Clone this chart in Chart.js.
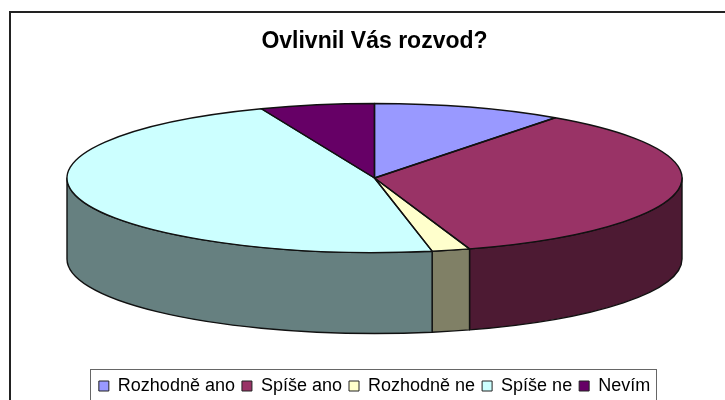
<!DOCTYPE html>
<html><head><meta charset="utf-8">
<style>html,body{margin:0;padding:0;background:#fff}canvas{display:block}</style>
<script src="https://cdn.jsdelivr.net/npm/chart.js@4"></script></head>
<body><canvas id="c" width="725" height="400"></canvas>
<script>
const categories = ["Rozhodně ano", "Spíše ano", "Rozhodně ne", "Spíše ne", "Nevím"];
const values = [10, 35, 2, 47, 6];
const topColors = ["#9999FF", "#993366", "#FFFFCC", "#CCFFFF", "#660066"];
const sideColors = ["#4D4D80", "#4D1A33", "#808066", "#668080", "#330033"];
const titleText = "Ovlivnil Vás rozvod?";
const outline = "#111111";
const geo = {cx: 374.5, cy: 178, rx: 307.5, ry: 74.5, depth: 81};

function xform(ctx, el){
  const r = el.outerRadius;
  ctx.translate(geo.cx, geo.cy);
  ctx.scale(geo.rx / r, geo.ry / r);
  ctx.translate(-el.x, -el.y);
}
const pie3d = {
  id: "pie3d",
  beforeDraw(chart){
    const c = chart.ctx;
    c.save();
    c.strokeStyle = "#222222"; c.lineWidth = 2;
    c.beginPath(); c.moveTo(10, 401); c.lineTo(10, 12); c.lineTo(726, 12); c.stroke();
    c.strokeStyle = "#666666"; c.lineWidth = 1;
    c.strokeRect(90.5, 369.5, 566, 40);
    c.restore();
  },
  beforeDatasetsDraw(chart){
    const c = chart.ctx, arcs = chart.getDatasetMeta(0).data;
    const {cx, cy, rx, ry, depth} = geo;
    c.save();
    c.lineWidth = 1.4; c.strokeStyle = outline; c.lineJoin = "round";
    arcs.forEach((el, i) => {
      const a = Math.max(el.startAngle, 0), b = Math.min(el.endAngle, Math.PI);
      if (b <= a) return;
      c.beginPath();
      c.ellipse(cx, cy, rx, ry, 0, a, b);
      c.ellipse(cx, cy + depth, rx, ry, 0, b, a, true);
      c.closePath();
      c.fillStyle = sideColors[i];
      c.fill(); c.stroke();
    });
    c.restore();
    c.save();
    xform(c, arcs[0]);
  },
  afterDatasetsDraw(chart){
    const c = chart.ctx, arcs = chart.getDatasetMeta(0).data;
    c.restore();
    const {cx, cy, rx, ry} = geo;
    c.save();
    c.lineWidth = 1.4; c.strokeStyle = outline; c.lineJoin = "round";
    arcs.forEach(el => {
      c.beginPath();
      c.moveTo(cx, cy);
      c.ellipse(cx, cy, rx, ry, 0, el.startAngle, el.endAngle);
      c.closePath();
      c.stroke();
    });
    c.restore();
  }
};

new Chart(document.getElementById("c"), {
  type: "pie",
  data: {labels: categories, datasets: [{data: values, backgroundColor: topColors, borderWidth: 0}]},
  plugins: [pie3d],
  options: {
    responsive: false, animation: false,
    layout: {padding: {left: 24, right: 0, top: 28, bottom: -5}},
    plugins: {
      tooltip: {enabled: false},
      title: {display: true, text: titleText, color: "#000",
        font: {family: "'Liberation Sans', Arial, sans-serif", size: 23, weight: "bold"},
        padding: {top: 0, bottom: 10}},
      legend: {
        position: "bottom",
        labels: {
          boxWidth: 10, boxHeight: 10, padding: 7, color: "#000",
          font: {family: "'Liberation Sans', Arial, sans-serif", size: 18},
          generateLabels(chart){
            return Chart.overrides.pie.plugins.legend.labels.generateLabels(chart)
              .map(it => Object.assign(it, {strokeStyle: "#222222", lineWidth: 1}));
          }
        }
      }
    }
  }
});
</script></body></html>
